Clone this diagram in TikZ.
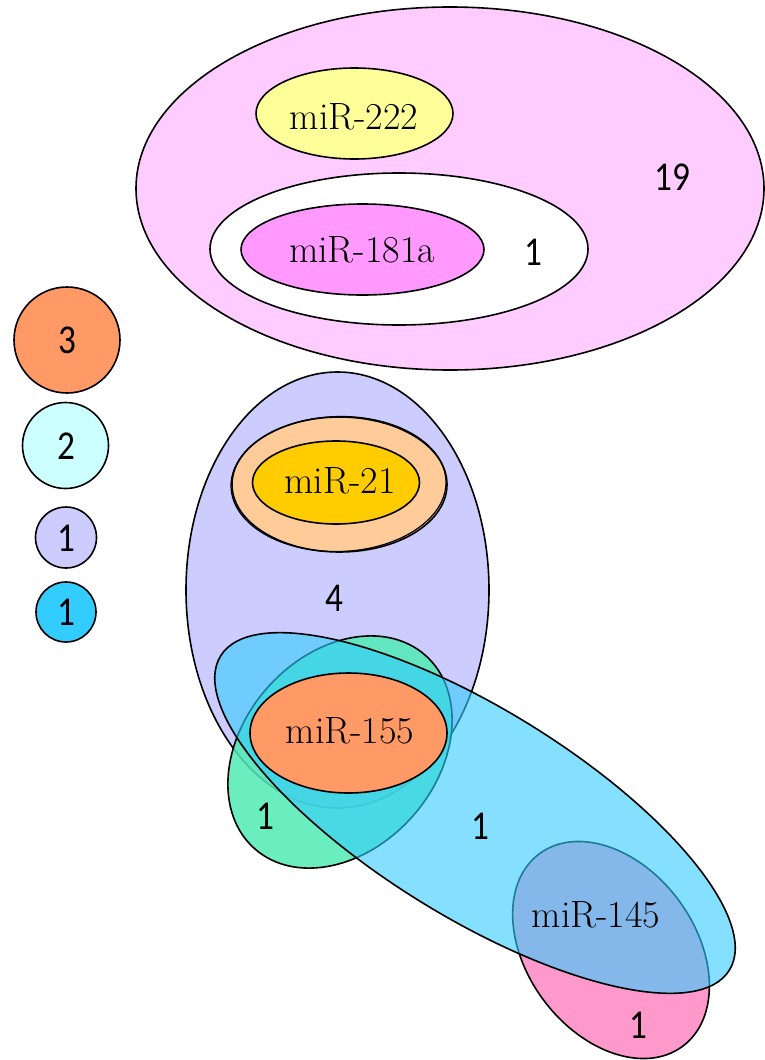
\documentclass[tikz,border=0pt]{standalone}
\usepackage{fontspec}
\usepackage{graphicx}
\newfontfamily\numfont{Carlito}
\newcommand{\numtxt}[1]{\scalebox{0.86}[1]{\numfont\fontsize{41}{41}\selectfont #1}}
\definecolor{bigpink}{HTML}{FFCCFF}
\definecolor{ylw}{HTML}{FFFF99}
\definecolor{magn}{HTML}{FF99FF}
\definecolor{orng}{HTML}{FF9966}
\definecolor{cyanl}{HTML}{CCFFFF}
\definecolor{lav}{HTML}{CCCCFF}
\definecolor{skyb}{HTML}{33CCFF}
\definecolor{peach}{HTML}{FFCC99}
\definecolor{gold}{HTML}{FFCC00}
\definecolor{grn}{RGB}{80,235,180}
\definecolor{pnk}{HTML}{FF99CC}
\begin{document}
\begin{tikzpicture}[x=1pt,y=-1pt,
  set/.style={draw=black,line width=1.6pt},
  mir/.style={inner sep=0pt,font=\fontsize{38}{38}\selectfont},
  num/.style={inner sep=0pt}]
\useasboundingbox (0,0) rectangle (765,1060);
% top group
\draw[set,fill=bigpink] (450,188.5) ellipse [x radius=314, y radius=181.5];
\draw[set,fill=ylw] (354.5,113.5) ellipse [x radius=98.5, y radius=45.5];
\draw[set,fill=white] (399,249) ellipse [x radius=189, y radius=76];
\draw[set,fill=magn] (362.5,249.5) ellipse [x radius=121.5, y radius=45.5];
\node[mir] (m222) at (354,117) {miR-222};
\node[mir] (m181) at (362,250) {miR-181a};
\node[num] (n19) at (672,177) {\numtxt{19}};
\node[num] (n1a) at (533,252) {\numtxt{1}};
% legend
\draw[set,fill=orng] (67,340) circle [radius=53];
\draw[set,fill=cyanl] (65.5,445.5) circle [radius=43];
\draw[set,fill=lav] (66,537.5) circle [radius=30.5];
\draw[set,fill=skyb] (66,612) circle [radius=30];
\node[num] (l3) at (67,340) {\numtxt{3}};
\node[num] (l2) at (66,446) {\numtxt{2}};
\node[num] (l1a) at (66,538) {\numtxt{1}};
\node[num] (l1b) at (66,612) {\numtxt{1}};
% lower group
\draw[set,fill=lav] (337.5,590) ellipse [x radius=151.5, y radius=218];
\draw[set,fill=peach] (339.5,484.5) ellipse [x radius=107.5, y radius=67.5];
\draw[set,line width=1.2pt,rotate around={1.5:(339,484)}] (338.5,484) ellipse [x radius=107.5, y radius=67.5];
\draw[set,fill=gold] (336,482.5) ellipse [x radius=83.5, y radius=41.5];
\draw[set,fill=grn,fill opacity=0.85,rotate around={48.6:(340,752)}] (340,752) ellipse [x radius=129, y radius=97];
\draw[set,fill=pnk,rotate around={-53.3:(611,950)}] (611,950) ellipse [x radius=120, y radius=84];
\draw[set,fill=skyb,fill opacity=0.6,rotate around={-31.7:(475,813)}] (475,813) ellipse [x radius=299, y radius=104];
\draw[set,fill=orng] (348.5,733) ellipse [x radius=98.5, y radius=60];
\node[mir] (m21) at (340,481) {miR-21};
\node[mir] (m155) at (350,731) {miR-155};
\node[mir] (m145) at (596,915) {miR-145};
\node[num] (n4) at (334,598) {\numtxt{4}};
\node[num] (n1g) at (265,816) {\numtxt{1}};
\node[num] (n1b) at (480,826) {\numtxt{1}};
\node[num] (n1p) at (638,1025) {\numtxt{1}};
\end{tikzpicture}
\end{document}
